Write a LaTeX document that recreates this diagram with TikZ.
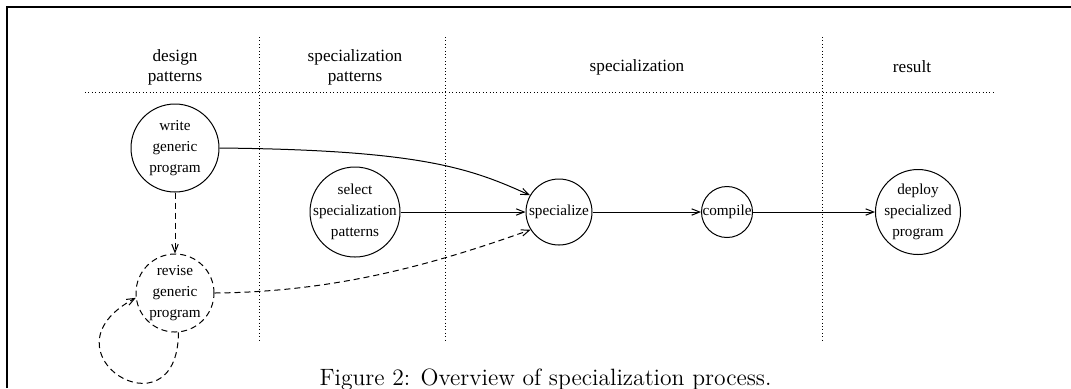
\documentclass[tikz,border=0pt]{standalone}
\usepackage{fontspec}
\newfontfamily\figfont{Liberation Serif}
\usetikzlibrary{positioning,calc,arrows.meta}

\tikzset{
    proc/.style={circle,draw,line width=0.5pt,inner sep=-6pt,align=center,
        font=\figfont\fontsize{7.6}{10.4}\selectfont},
    phase/.style={align=center,font=\figfont\fontsize{8.6}{10}\selectfont},
    flow/.style={line width=0.5pt,-{Straight Barb[length=4pt,width=3.2pt]}},
    revision/.style={flow,dash pattern=on 3pt off 2pt},
    divider/.style={line width=0.5pt,dash pattern=on 0.5pt off 1.2pt},
}

\begin{document}
\begin{tikzpicture}[x=0.5pt,y=-0.5pt]
    \useasboundingbox (0,0) rectangle (1071,388);

    % frame
    \draw[line width=1pt] (7,388) -- (7,7) -- (1071,7);

    % phases
    \node[phase] (design) at (175,67) {design\\patterns};
    \node[phase] (specpat) at (355,67) {specialization\\patterns};
    \node[phase] (specphase) at (637,67) {specialization};
    \node[phase] (result) at (912,67) {result};

    \draw[divider] (85,92) -- (994,92);
    \draw[divider] (259,37) -- (259,340);
    \draw[divider] (445,37) -- (445,340);
    \draw[divider] (822,37) -- (822,340);

    % process steps
    \node[proc,minimum size=33pt] (spec) at (559,212) {specialize};
    \node[proc,minimum size=25.5pt,on grid,right=84pt of spec] (compile) {compile};
    \node[proc,minimum size=42.5pt,on grid,right=95.5pt of compile] (deploy) {deploy\\specialized\\program};
    \node[proc,minimum size=45pt,on grid,left=102pt of spec] (select) {select\\specialization\\patterns};
    \node[proc,minimum size=44pt] (write) at (175,148) {write\\generic\\program};
    \node[proc,minimum size=39pt,dash pattern=on 3pt off 2pt,on grid,below=72.5pt of write] (revise) {revise\\generic\\program};

    \draw[flow] (write.east) .. controls (420,150) and (470,168) .. (spec.150);
    \draw[flow] (select) -- (spec);
    \draw[flow] (spec) -- (compile);
    \draw[flow] (compile) -- (deploy);
    \draw[revision] (write) -- (revise);
    \draw[revision] (revise.east) .. controls (340,292) and (440,262) .. (spec.212);
    \draw[revision] (revise.-85) .. controls (178,440) and (35,352) .. (revise.187);

    % caption
    \node[anchor=base,font=\fontsize{11.8}{14}\selectfont] (caption) at (545.5,385.5)
        {Figure 2: Overview of specialization process.};
\end{tikzpicture}
\end{document}
